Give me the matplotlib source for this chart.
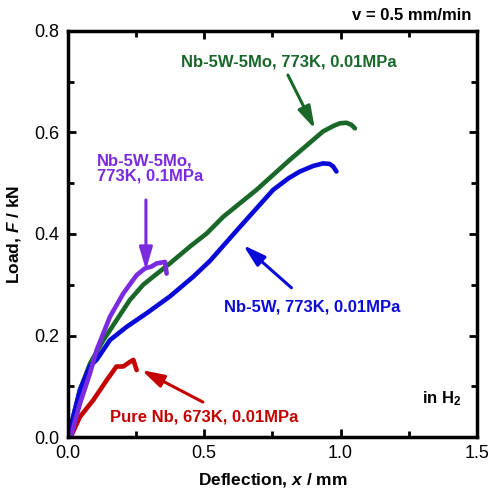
import matplotlib
matplotlib.use("Agg")
from matplotlib import pyplot as plt
from matplotlib.ticker import MultipleLocator, FormatStrFormatter

plt.rcParams['font.family'] = ['Liberation Sans', 'DejaVu Sans']
plt.rcParams['mathtext.fontset'] = 'custom'
plt.rcParams['mathtext.rm'] = 'Liberation Sans:bold'
plt.rcParams['mathtext.it'] = 'Liberation Sans:bold:italic'

# load-deflection curves
green_x = [0, 0.007, 0.044, 0.081, 0.13, 0.178, 0.227, 0.276, 0.313, 0.374, 0.447,
           0.509, 0.57, 0.692, 0.814, 0.936, 0.975, 0.998, 1.022, 1.04, 1.053]
green_y = [0, 0.014, 0.093, 0.145, 0.191, 0.23, 0.27, 0.3, 0.316, 0.342, 0.375,
           0.401, 0.434, 0.487, 0.546, 0.602, 0.613, 0.618, 0.619, 0.615, 0.608]

blue_x = [0, 0.007, 0.044, 0.081, 0.105, 0.154, 0.215, 0.289, 0.374, 0.46, 0.521,
          0.631, 0.753, 0.81, 0.851, 0.9, 0.936, 0.96, 0.973, 0.985]
blue_y = [0, 0.014, 0.093, 0.14, 0.152, 0.191, 0.217, 0.244, 0.277, 0.316, 0.347,
          0.414, 0.487, 0.51, 0.523, 0.534, 0.539, 0.538, 0.533, 0.523]

purple_x = [0, 0.01, 0.044, 0.081, 0.105, 0.154, 0.203, 0.252, 0.282, 0.307, 0.325,
            0.356, 0.362]
purple_y = [0, 0.0, 0.066, 0.126, 0.171, 0.237, 0.283, 0.319, 0.332, 0.336, 0.342,
            0.345, 0.322]

red_x = [0, 0.01, 0.044, 0.093, 0.142, 0.178, 0.203, 0.227, 0.24, 0.252]
red_y = [0, 0.0, 0.04, 0.073, 0.112, 0.139, 0.139, 0.148, 0.152, 0.132]

c_green = '#19682a'
c_blue = '#0a0ad8'
c_purple = '#7a2be0'
c_red = '#c40000'

fig = plt.figure(figsize=(4.89, 4.90), dpi=100)
ax = fig.add_axes([0.139, 0.108, 0.836, 0.829])

ax.plot(green_x, green_y, color=c_green, lw=3.3, solid_capstyle='round', solid_joinstyle='round')
ax.plot(blue_x, blue_y, color=c_blue, lw=3.3, solid_capstyle='round', solid_joinstyle='round')
ax.plot(red_x, red_y, color=c_red, lw=3.3, solid_capstyle='round', solid_joinstyle='round')
ax.plot(purple_x, purple_y, color=c_purple, lw=3.3, solid_capstyle='round', solid_joinstyle='round')

ax.set_xlim(0, 1.5)
ax.set_ylim(0, 0.8)
ax.xaxis.set_major_locator(MultipleLocator(0.5))
ax.xaxis.set_minor_locator(MultipleLocator(0.25))
ax.yaxis.set_major_locator(MultipleLocator(0.2))
ax.yaxis.set_minor_locator(MultipleLocator(0.1))
ax.xaxis.set_major_formatter(FormatStrFormatter('%.1f'))
ax.yaxis.set_major_formatter(FormatStrFormatter('%.1f'))
ax.tick_params(which='both', direction='in', top=True, right=True, width=2, labelsize=13)
ax.tick_params(which='major', length=6, pad=6)
ax.tick_params(which='minor', length=4)
for s in ax.spines.values():
    s.set_linewidth(2.5)

ax.set_xlabel('Deflection, $x$ / mm', fontsize=12.5, fontweight='bold', labelpad=6)
ax.set_ylabel('Load, $F$ / kN', fontsize=12.5, fontweight='bold', labelpad=8)

txt = dict(fontsize=12, fontweight='bold', va='center')
ax.text(0.81, 0.739, 'Nb-5W-5Mo, 773K, 0.01MPa', color=c_green, ha='center', **txt)
ax.text(0.106, 0.529, 'Nb-5W-5Mo,\n773K, 0.1MPa', color=c_purple, ha='left',
        linespacing=1.05, **txt)
ax.text(0.897, 0.257, 'Nb-5W, 773K, 0.01MPa', color=c_blue, ha='center', **txt)
ax.text(0.5, 0.04, 'Pure Nb, 673K, 0.01MPa', color=c_red, ha='center', **txt)
ax.text(1.37, 0.075, 'in H$_2$', color='black', ha='center', **txt)
fig.text(0.963, 0.968, 'v = 0.5 mm/min', color='black', ha='right', **txt)

# arrows: (head, tail, colour)
arrows = [((0.906, 0.607), (0.807, 0.713), c_green),
          ((0.286, 0.329), (0.286, 0.467), c_purple),
          ((0.643, 0.378), (0.82, 0.294), c_blue),
          ((0.27, 0.132), (0.495, 0.069), c_red)]
for head, tail, c in arrows:
    ax.annotate('', xy=head, xytext=tail,
                arrowprops=dict(arrowstyle='-|>,head_length=0.75,head_width=0.22',
                                lw=2.2, color=c, mutation_scale=18,
                                shrinkA=0, shrinkB=0))

plt.savefig('out.png', dpi=100)
